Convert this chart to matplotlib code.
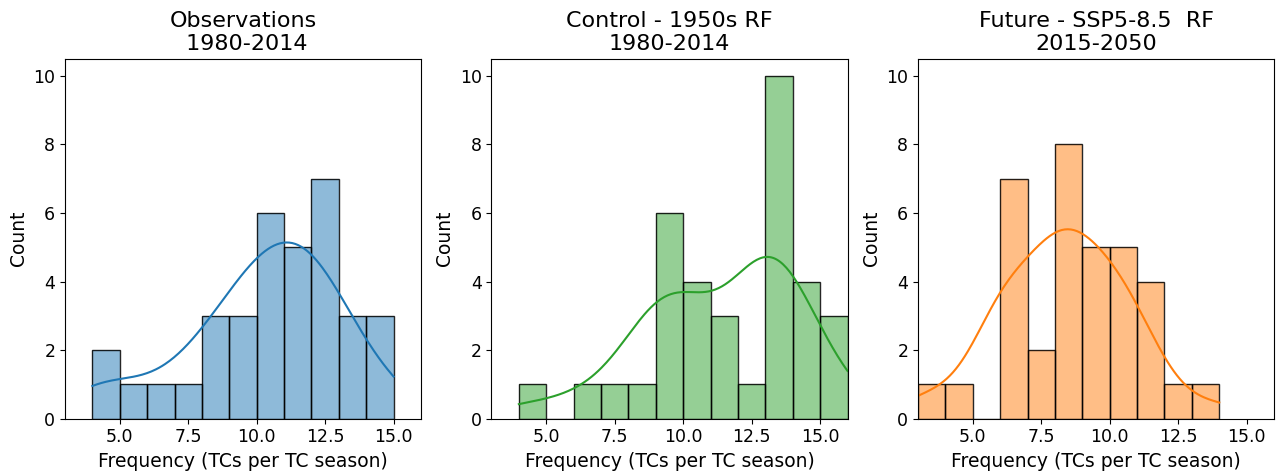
import numpy as np
import matplotlib
matplotlib.use("Agg")
import matplotlib.pyplot as plt

# TCs per season (one value per season)
obs = [4, 4, 5, 6, 7, 8, 8, 8, 9, 9, 9,
       10, 10, 10, 10, 10, 10, 11, 11, 11, 11, 11,
       12, 12, 12, 12, 12, 12, 12, 13, 13, 13, 14, 14, 15]
ctrl = [4, 6, 7, 8, 9, 9, 9, 9, 9, 9, 10, 10, 10, 10, 11, 11, 11, 12,
        13, 13, 13, 13, 13, 13, 13, 13, 13, 13, 14, 14, 14, 14, 15, 15, 16]
fut = [3, 4, 6, 6, 6, 6, 6, 6, 6, 7, 7, 8, 8, 8, 8, 8, 8, 8, 8,
       9, 9, 9, 9, 9, 10, 10, 10, 10, 10, 11, 11, 11, 11, 12, 14]

titles = ["Observations\n 1980-2014",
          "Control - 1950s RF\n1980-2014",
          "Future - SSP5-8.5  RF\n2015-2050"]
colors = ["tab:blue", "tab:green", "tab:orange"]
series = [obs, ctrl, fut]


def kde_curve(x, binwidth=1.0, gridsize=200):
    # gaussian kde, scott bandwidth, scaled to counts like seaborn's histplot
    x = np.asarray(x, dtype=float)
    n = len(x)
    bw = np.std(x, ddof=1) * n ** (-1 / 5)
    grid = np.linspace(x.min(), x.max(), gridsize)
    dens = np.exp(-0.5 * ((grid[:, None] - x[None, :]) / bw) ** 2).sum(axis=1)
    dens /= n * bw * np.sqrt(2 * np.pi)
    return grid, dens * n * binwidth


fig, axes = plt.subplots(1, 3, figsize=(12.79, 4.75), dpi=100)
plt.subplots_adjust(left=0.0508, right=0.9961, top=0.8764, bottom=0.1185, wspace=0.198)

for ax, data, title, c in zip(axes, series, titles, colors):
    edges = np.arange(min(data), max(data) + 1, 1)
    ax.hist(data, bins=edges, color=c, alpha=0.5, edgecolor="none")
    ax.hist(data, bins=edges, histtype="bar", facecolor="none",
            edgecolor="black", linewidth=1.0, alpha=0.85)
    gx, gy = kde_curve(data)
    ax.plot(gx, gy, color=c, linewidth=1.5)
    ax.set_xlim(3, 16)
    ax.set_ylim(0, 10.5)
    ax.set_xticks([5.0, 7.5, 10.0, 12.5, 15.0])
    ax.set_yticks([0, 2, 4, 6, 8, 10])
    ax.set_title(title, fontsize=16)
    ax.set_xlabel("Frequency (TCs per TC season)", fontsize=13.5)
    ax.set_ylabel("Count", fontsize=13.5)
    ax.tick_params(labelsize=12.5)

fig.savefig("out.png", dpi=100)
